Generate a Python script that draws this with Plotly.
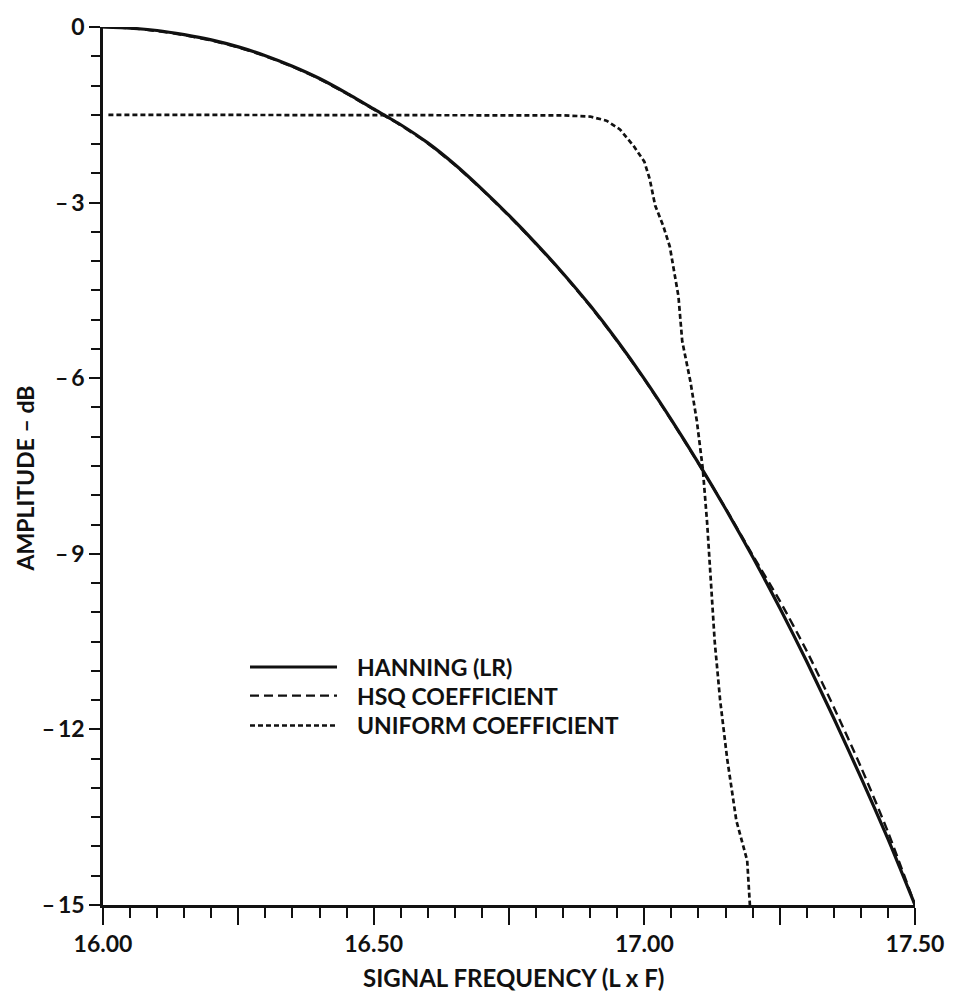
import plotly.graph_objects as go

# ---- data ----
freq = [16.00, 16.05, 16.10, 16.15, 16.20, 16.25, 16.30, 16.35, 16.40, 16.45,
        16.50, 16.55, 16.60, 16.65, 16.70, 16.75, 16.80, 16.85, 16.90, 16.95,
        17.00, 17.05, 17.10, 17.15, 17.20, 17.25, 17.30, 17.35, 17.40, 17.45, 17.50]
hanning_db = [0.00, -0.02, -0.06, -0.13, -0.22, -0.34, -0.49, -0.67, -0.88, -1.13,
              -1.40, -1.67, -1.98, -2.35, -2.77, -3.22, -3.70, -4.21, -4.76, -5.36,
              -6.01, -6.71, -7.45, -8.23, -9.05, -9.92, -10.84, -11.81, -12.82, -13.87, -15.00]
hsq_db = [0.00, -0.02, -0.07, -0.14, -0.23, -0.35, -0.50, -0.68, -0.89, -1.14,
          -1.41, -1.68, -1.99, -2.36, -2.78, -3.23, -3.71, -4.22, -4.77, -5.37,
          -6.02, -6.72, -7.46, -8.22, -9.02, -9.80, -10.66, -11.62, -12.64, -13.75, -15.00]

uniform_freq = [16.01, 16.10, 16.20, 16.30, 16.40, 16.50, 16.60, 16.70, 16.80, 16.85,
                16.90, 16.93, 16.955, 16.98, 17.00, 17.01, 17.02, 17.035, 17.047, 17.055,
                17.063, 17.07, 17.085, 17.097, 17.108, 17.116, 17.125, 17.13, 17.14,
                17.153, 17.17, 17.19, 17.195]
uniform_db = [-1.50, -1.50, -1.50, -1.50, -1.50, -1.50, -1.50, -1.50, -1.50, -1.51,
              -1.53, -1.60, -1.75, -2.03, -2.30, -2.60, -3.05, -3.40, -3.75, -4.20,
              -4.60, -5.37, -6.05, -6.73, -7.55, -8.47, -9.83, -10.50, -11.50,
              -12.50, -13.56, -14.24, -15.00]

series_names = ["HANNING (LR)", "HSQ COEFFICIENT", "UNIFORM COEFFICIENT"]
x_tick_labels = {"16.25": "", "16.75": "", "17.25": ""}
y_tick_labels = {"\u22123": "\u2013\u20093", "\u22126": "\u2013\u20096", "\u22129": "\u2013\u20099",
                 "\u221212": "\u2013\u200912", "\u221215": "\u2013\u200915"}

FONT = "Lato"
BLACK = "#111111"

fig = go.Figure()
fig.add_trace(go.Scatter(x=uniform_freq, y=uniform_db, mode="lines", name=series_names[2],
                         line=dict(color=BLACK, width=2.7, dash="5px,3px"), showlegend=False))
fig.add_trace(go.Scatter(x=freq, y=hsq_db, mode="lines", name=series_names[1],
                         line=dict(color=BLACK, width=2.4, dash="9px,5px",
                                   shape="spline", smoothing=0.6), showlegend=False))
fig.add_trace(go.Scatter(x=freq, y=hanning_db, mode="lines", name=series_names[0],
                         line=dict(color=BLACK, width=3.2, shape="spline", smoothing=0.6),
                         showlegend=False))

W, H = 959, 999
L, R, T, B = 103, 44, 20, 94
pw, ph = W - L - R, H - T - B

def px(xp):
    return (xp - L) / pw

def py(yp):
    return (H - B - yp) / ph

# legend drawn manually (long line samples like the reference)
legend_rows = [665, 694, 724]
dashes = ["solid", "9px,5px", "5px,3px"]
widths = [3.0, 2.4, 2.4]
shapes = []
annotations = []
for name, yrow, d, w in zip(series_names, legend_rows, dashes, widths):
    shapes.append(dict(type="line", xref="paper", yref="paper",
                       x0=px(250), x1=px(337), y0=py(yrow), y1=py(yrow),
                       line=dict(color=BLACK, width=w, dash=d)))
    annotations.append(dict(text=name, xref="paper", yref="paper", x=px(355), y=py(yrow),
                            xanchor="left", yanchor="middle", showarrow=False,
                            font=dict(family=FONT, size=23, color=BLACK, weight="bold")))

annotations.append(dict(text="SIGNAL FREQUENCY (L x F)", xref="paper", yref="paper",
                        x=px(513), y=py(978), xanchor="center", yanchor="middle", showarrow=False,
                        font=dict(family=FONT, size=24, color=BLACK, weight="bold")))
annotations.append(dict(text="AMPLITUDE \u2013 dB", xref="paper", yref="paper",
                        x=px(25), y=py(475), xanchor="center", yanchor="middle", showarrow=False,
                        textangle=-90,
                        font=dict(family=FONT, size=23, color=BLACK, weight="bold")))

fig.update_layout(
    width=W, height=H,
    margin=dict(l=L, r=R, t=T, b=B),
    paper_bgcolor="white", plot_bgcolor="white",
    shapes=shapes, annotations=annotations,
    showlegend=False,
)
fig.update_xaxes(range=[16.0, 17.5], tickmode="linear", tick0=16.0, dtick=0.25,
                 tickformat=".2f", labelalias=x_tick_labels,
                 showline=True, linecolor=BLACK, linewidth=2.6,
                 ticks="outside", ticklen=17, tickwidth=2.4, tickcolor=BLACK,
                 minor=dict(tick0=16.0, dtick=0.05, ticks="outside", ticklen=10,
                            tickwidth=2.2, tickcolor=BLACK, showgrid=False),
                 showgrid=False, zeroline=False,
                 tickfont=dict(family=FONT, size=23, color=BLACK, weight="bold"))
fig.update_yaxes(range=[-15.0, 0.0], tickmode="linear", tick0=0, dtick=3,
                 labelalias=y_tick_labels,
                 showline=True, linecolor=BLACK, linewidth=2.6,
                 ticks="outside", ticklen=11, tickwidth=2.4, tickcolor=BLACK,
                 minor=dict(tick0=0, dtick=0.5, ticks="outside", ticklen=9,
                            tickwidth=2.2, tickcolor=BLACK, showgrid=False),
                 showgrid=False, zeroline=False,
                 tickfont=dict(family=FONT, size=23, color=BLACK, weight="bold"))

fig.write_html("out.html")
